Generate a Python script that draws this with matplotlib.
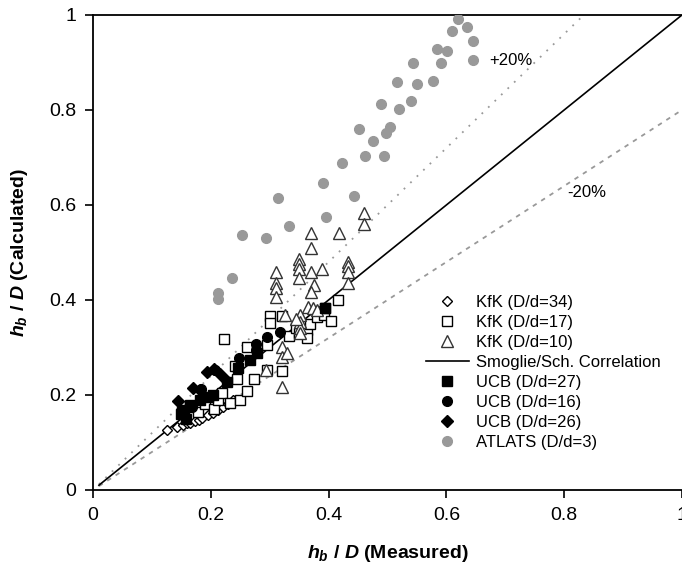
import matplotlib
matplotlib.use("Agg")
import matplotlib.pyplot as plt

plt.rcParams["font.family"] = ["Liberation Sans", "DejaVu Sans"]
plt.rcParams["mathtext.fontset"] = "custom"
plt.rcParams["mathtext.it"] = "Liberation Sans:bold:italic"
plt.rcParams["mathtext.rm"] = "Liberation Sans:bold"

# KfK (D/d=34) open diamonds
kfk34_x = [0.126, 0.143, 0.153, 0.160, 0.165, 0.173, 0.180, 0.185, 0.195, 0.204, 0.212, 0.221, 0.230, 0.238]
kfk34_y = [0.126, 0.133, 0.137, 0.140, 0.141, 0.145, 0.148, 0.152, 0.158, 0.162, 0.168, 0.175, 0.182, 0.189]

# KfK (D/d=17) open squares
kfk17_x = [0.151, 0.165, 0.178, 0.190, 0.205, 0.212, 0.219, 0.222, 0.233, 0.241, 0.244, 0.250,
           0.261, 0.261, 0.273, 0.295, 0.295, 0.300, 0.300, 0.321, 0.321, 0.333, 0.345, 0.350,
           0.363, 0.363, 0.368, 0.380, 0.392, 0.394, 0.404, 0.416]
kfk17_y = [0.164, 0.175, 0.164, 0.180, 0.170, 0.190, 0.204, 0.318, 0.183, 0.261, 0.234, 0.189,
           0.208, 0.301, 0.234, 0.305, 0.253, 0.366, 0.352, 0.366, 0.251, 0.324, 0.340, 0.330,
           0.337, 0.320, 0.349, 0.365, 0.368, 0.383, 0.356, 0.400]

# KfK (D/d=10) open triangles
kfk10_x = [0.460, 0.460, 0.370, 0.418, 0.370, 0.350, 0.350, 0.350, 0.350, 0.311, 0.311, 0.311,
           0.311, 0.370, 0.389, 0.375, 0.370, 0.433, 0.433, 0.433, 0.433, 0.365, 0.374, 0.381,
           0.351, 0.351, 0.351, 0.351, 0.345, 0.326, 0.321, 0.321, 0.329, 0.294, 0.321]
kfk10_y = [0.583, 0.560, 0.541, 0.541, 0.509, 0.486, 0.476, 0.465, 0.446, 0.459, 0.436, 0.425,
           0.406, 0.459, 0.465, 0.432, 0.417, 0.480, 0.472, 0.459, 0.436, 0.385, 0.383, 0.379,
           0.368, 0.354, 0.341, 0.331, 0.360, 0.368, 0.301, 0.280, 0.288, 0.253, 0.217]

# Smoglie/Schaffer correlation and +/-20 % band
corr_x = [0.01, 1.0]
band_hi = 1.2
band_lo = 0.8

# UCB (D/d=27) filled squares
ucb27_x = [0.150, 0.153, 0.158, 0.165, 0.182, 0.195, 0.204, 0.228, 0.246, 0.267, 0.278, 0.394]
ucb27_y = [0.160, 0.168, 0.150, 0.179, 0.189, 0.196, 0.200, 0.227, 0.257, 0.274, 0.288, 0.383]

# UCB (D/d=16) filled circles
ucb16_x = [0.156, 0.168, 0.183, 0.207, 0.248, 0.277, 0.277, 0.295, 0.317]
ucb16_y = [0.168, 0.175, 0.213, 0.253, 0.278, 0.295, 0.307, 0.322, 0.333]

# UCB (D/d=26) filled diamonds
ucb26_x = [0.144, 0.170, 0.182, 0.194, 0.205, 0.216, 0.226]
ucb26_y = [0.187, 0.215, 0.211, 0.248, 0.255, 0.244, 0.232]

# ATLATS (D/d=3) grey circles
atlats_x = [0.620, 0.610, 0.635, 0.645, 0.645, 0.584, 0.601, 0.543, 0.591, 0.516, 0.550, 0.577,
            0.489, 0.520, 0.540, 0.452, 0.504, 0.497, 0.475, 0.423, 0.462, 0.494, 0.390, 0.443,
            0.314, 0.396, 0.333, 0.253, 0.294, 0.236, 0.212, 0.212]
atlats_y = [0.992, 0.966, 0.975, 0.945, 0.905, 0.928, 0.924, 0.899, 0.899, 0.859, 0.855, 0.861,
            0.813, 0.802, 0.819, 0.760, 0.764, 0.752, 0.735, 0.688, 0.703, 0.703, 0.646, 0.619,
            0.615, 0.575, 0.556, 0.537, 0.531, 0.446, 0.415, 0.402]

fig = plt.figure(figsize=(6.82, 5.73), dpi=100)
ax = fig.add_axes([0.1364, 0.1449, 0.8636, 0.829])

# reference lines
hi_y = [band_hi * v for v in corr_x]
lo_y = [band_lo * v for v in corr_x]
ax.plot(corr_x, hi_y, color="#999999", lw=1.3, ls=(0, (1, 4)), zorder=1)
ax.plot(corr_x, lo_y, color="#999999", lw=1.3, ls=(0, (2.5, 3)), zorder=1)

ax.plot(kfk34_x, kfk34_y, "D", ls="none", ms=5, mfc="white", mec="black", mew=1.0,
        label="KfK (D/d=34)", zorder=3)
ax.plot(kfk17_x, kfk17_y, "s", ls="none", ms=7, mfc="white", mec="black", mew=1.0,
        label="KfK (D/d=17)", zorder=3)
ax.plot(kfk10_x, kfk10_y, "^", ls="none", ms=8, mfc="white", mec="#333333", mew=1.0,
        label="KfK (D/d=10)", zorder=3)
ax.plot(corr_x, corr_x, color="black", lw=1.2, label="Smoglie/Sch. Correlation", zorder=2)
ax.plot(ucb27_x, ucb27_y, "s", ls="none", ms=6.5, color="black",
        label="UCB (D/d=27)", zorder=4)
ax.plot(ucb16_x, ucb16_y, "o", ls="none", ms=7, color="black",
        label="UCB (D/d=16)", zorder=4)
ax.plot(ucb26_x, ucb26_y, "D", ls="none", ms=6, color="black",
        label="UCB (D/d=26)", zorder=4)
ax.plot(atlats_x, atlats_y, "o", ls="none", ms=7, color="#999999",
        label="ATLATS (D/d=3)", zorder=4)

ax.text(0.672, 0.905, "+20%", fontsize=12, va="center", ha="left")
ax.text(0.806, 0.627, "-20%", fontsize=12, va="center", ha="left")

ax.set_xlim(0, 1)
ax.set_ylim(0, 1)
ax.set_xticks([0, 0.2, 0.4, 0.6, 0.8, 1.0])
ax.set_xticklabels(["0", "0.2", "0.4", "0.6", "0.8", "1"])
ax.set_yticks([0, 0.2, 0.4, 0.6, 0.8, 1.0])
ax.set_yticklabels(["0", "0.2", "0.4", "0.6", "0.8", "1"])
ax.tick_params(labelsize=14, length=6, width=1.2, direction="out", pad=6)

ax.spines.right.set_visible(False)
for side in ["left", "bottom", "top"]:
    ax.spines[side].set_linewidth(1.3)

ax.set_xlabel(r"$h_b$ / $D$ (Measured)", fontsize=14, fontweight="bold", labelpad=14)
ax.set_ylabel(r"$h_b$ / $D$ (Calculated)", fontsize=14, fontweight="bold", labelpad=14)

ax.legend(loc="upper left", bbox_to_anchor=(0.565, 0.41), frameon=False, fontsize=12,
          handlelength=2.6, handletextpad=0.4, labelspacing=0.3, borderpad=0,
          borderaxespad=0, numpoints=1)

fig.savefig("out.png", dpi=100)
